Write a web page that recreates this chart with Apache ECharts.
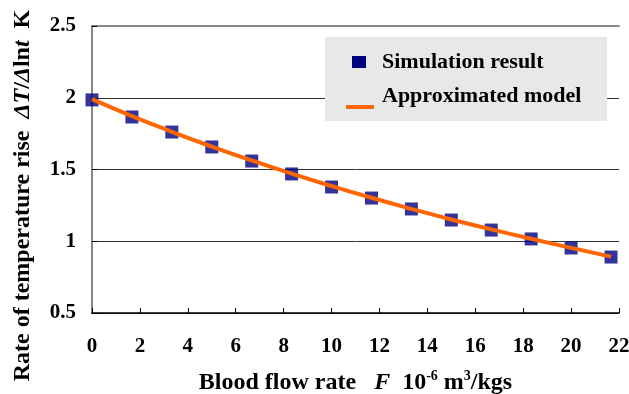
<!DOCTYPE html>
<html><head><meta charset="utf-8">
<script src="https://cdn.jsdelivr.net/npm/echarts@6/dist/echarts.min.js"></script>
<style>html,body{margin:0;padding:0;background:#fff}#c{width:629px;height:394px}</style>
</head><body><div id="c"></div>
<script>
var flowRate = [0, 1.667, 3.333, 5, 6.667, 8.333, 10, 11.667, 13.333, 15, 16.667, 18.333, 20, 21.667];
var simulation = [1.985, 1.866, 1.761, 1.657, 1.559, 1.469, 1.378, 1.301, 1.225, 1.148, 1.078, 1.016, 0.953, 0.890];
var model = [1.99, 1.872, 1.763, 1.660, 1.563, 1.471, 1.385, 1.303, 1.226, 1.152, 1.083, 1.017, 0.954, 0.893];
var xTicks = [0, 2, 4, 6, 8, 10, 12, 14, 16, 18, 20, 22];
var yTicks = [0.5, 1, 1.5, 2, 2.5];

var F = '"Liberation Serif", "Times New Roman", serif';
var chart = echarts.init(document.getElementById('c'));
var L = 92, R = 10, T = 26, B = 81;
chart.setOption({
  animation: false,
  backgroundColor: '#fff',
  grid: {left: L, right: R, top: T, bottom: B, show: false, containLabel: false, outerBoundsMode: 'none'},
  xAxis: [{
    type: 'value', min: xTicks[0], max: xTicks[xTicks.length-1], interval: 2,
    axisLine: {lineStyle: {color: '#000', width: 1.5}},
    axisTick: {inside: true, length: 5, lineStyle: {color: '#000'}},
    splitLine: {show: false},
    axisLabel: {fontFamily: F, fontWeight: 'bold', fontSize: 21, color: '#000', margin: 23},
    name: '{a|Blood flow rate   }{i|F}{a|  10}{s|-6}{a| m}{s|3}{a|/kgs}',
    nameLocation: 'middle', nameGap: 56,
    nameTextStyle: {
      rich: {
        a: {fontFamily: F, fontWeight: 'bold', fontSize: 24, color: '#000', verticalAlign: 'bottom', lineHeight: 26},
        i: {fontFamily: F, fontWeight: 'bold', fontStyle: 'italic', fontSize: 24, color: '#000', verticalAlign: 'bottom', lineHeight: 26},
        s: {fontFamily: F, fontWeight: 'bold', fontSize: 14, color: '#000', verticalAlign: 'top', lineHeight: 26, padding: [0,0,10,0]}
      }
    }
  }, {
    type: 'value', position: 'top', min: 0, max: 22,
    axisLine: {show: true, lineStyle: {color: '#888', width: 2}},
    axisTick: {show: false}, axisLabel: {show: false}, splitLine: {show: false}
  }],
  yAxis: [{
    type: 'value', min: yTicks[0], max: yTicks[yTicks.length-1], interval: 0.5,
    axisLine: {show: true, lineStyle: {color: '#000', width: 1.5}},
    axisTick: {show: true, inside: true, length: 5, lineStyle: {color: '#000'}},
    splitLine: {show: true, lineStyle: {color: '#333', width: 1}},
    axisLabel: {fontFamily: F, fontWeight: 'bold', fontSize: 21, color: '#000', margin: 16},
    name: '{a|Rate of temperature rise  }{i|ΔT}{a|/}{i|Δ}{a|ln}{i|t}{a|  K}',
    nameLocation: 'middle', nameGap: 57, nameRotate: 90,
    nameTextStyle: {
      padding: [0, 52, 0, 0],
      rich: {
        a: {fontFamily: F, fontWeight: 'bold', fontSize: 24, color: '#000'},
        i: {fontFamily: F, fontWeight: 'bold', fontStyle: 'italic', fontSize: 24, color: '#000'}
      }
    }
  }, {
    type: 'value', position: 'right', min: 0.5, max: 2.5,
    axisLine: {show: true, lineStyle: {color: '#888', width: 2}},
    axisTick: {show: false}, axisLabel: {show: false}, splitLine: {show: false}
  }],
  series: [{
    name: 'Simulation result', type: 'scatter', symbol: 'rect', symbolSize: [13, 13],
    itemStyle: {color: '#000080'}, z: 2,
    data: flowRate.map(function (x, i) { return [x, simulation[i]]; })
  }, {
    name: 'Approximated model', type: 'line', smooth: true, showSymbol: false,
    lineStyle: {color: '#FF6600', width: 4}, z: 3,
    data: flowRate.map(function (x, i) { return [x, model[i]]; })
  }],
  graphic: [
    {type: 'rect', left: 325, top: 37, shape: {width: 282, height: 84}, style: {fill: '#e8e8e8'}, z: 10},
    {type: 'rect', left: 352, top: 56, shape: {width: 14, height: 12}, style: {fill: '#000080'}, z: 11},
    {type: 'rect', left: 346, top: 105, shape: {width: 28, height: 4}, style: {fill: '#FF6600'}, z: 11},
    {type: 'text', x: 382, y: 62, style: {text: 'Simulation result', font: 'bold 22px ' + F, fill: '#000', verticalAlign: 'middle'}, z: 11},
    {type: 'text', x: 382, y: 96, style: {text: 'Approximated model', font: 'bold 22px ' + F, fill: '#000', verticalAlign: 'middle'}, z: 11}
  ]
});
</script></body></html>
